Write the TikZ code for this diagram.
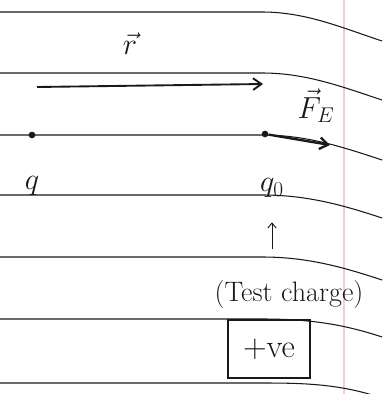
\RequirePackage{fix-cm}
\documentclass[tikz,border=0pt]{standalone}
\usepackage{xcolor}
\usepackage{tikz}
\usepackage{amsmath}
\usetikzlibrary{arrows.meta}
\definecolor{ink}{RGB}{25,25,25}
\definecolor{marginred}{RGB}{242,205,210}

\begin{document}
\begin{tikzpicture}[x=0.03cm, y=-0.03cm,
    rule/.style={draw=ink, line width=0.9pt},
    arrow/.style={-{Straight Barb[length=2.5mm, width=3.5mm]}, line width=1.6pt, color=ink},
    dot/.style={circle, fill=ink, inner sep=0pt, minimum size=2mm},
    lbl/.style={font=\fontsize{26}{30}\selectfont, color=ink, inner sep=1pt}
]
    \useasboundingbox (0,0) rectangle (382,394);

    % Paper
    \draw[marginred, line width=1.5pt] (344,0) -- (344,394);
    \foreach \ya/\yb in {12/41, 73/100, 135/160, 195/218, 257/280, 319/337, 383/398}
        \draw[rule] (0,\ya) -- (262,\ya) .. controls (305,\ya) and (340,\yb-14) .. (382,\yb);

    % Charges
    \node[dot] (q)  at (32,135)  {};
    \node[dot] (q0) at (265,134) {};
    \node[lbl] (qlbl)  at (32,186)  {$q$};
    \node[lbl] (q0lbl) at (272,188) {$q_0$};

    % Vectors
    \coordinate (rstart) at (37,87);
    \coordinate (rend)   at (263,84);
    \coordinate (fend)   at (330,145);
    \draw[arrow] (rstart) -- (rend);
    \draw[arrow, line width=2pt] (q0) -- (fend);
    \node[lbl] (rlbl) at (130,44)  {$\vec{r}$};
    \node[lbl] (flbl) at (316,106) {$\vec{F}_E$};

    % Test charge note
    \node[font=\fontsize{24}{28}\selectfont, color=ink] (tc) at (289,294) {(Test charge)};
    \node[draw=ink, line width=1.2pt, minimum width=2.46cm, minimum height=1.74cm,
          font=\fontsize{28}{32}\selectfont, color=ink] (pos) at (269,349) {$+$ve};
    \draw[-{Straight Barb[length=1.5mm, width=2.5mm]}, thick, color=ink,
          shorten <=8mm, shorten >=7mm]
        (tc.north -| q0lbl) -- (q0lbl);
\end{tikzpicture}
\end{document}
